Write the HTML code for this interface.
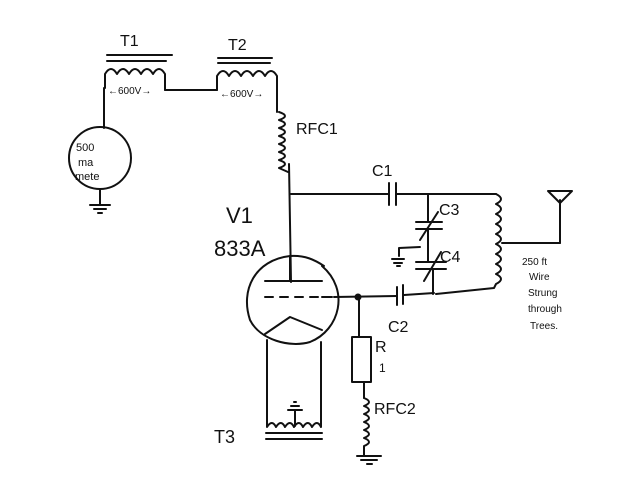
<!DOCTYPE html>
<html><head><style>
html,body{margin:0;padding:0;background:#fff;}
svg{display:block}
text{font-family:"Liberation Sans",sans-serif;fill:#111}
</style></head><body>
<svg width="640" height="480" viewBox="0 0 640 480" xmlns="http://www.w3.org/2000/svg">
<g fill="none" stroke="#111" stroke-width="2" stroke-linecap="round" stroke-linejoin="round">
<!-- T1 -->
<line x1="107" y1="55" x2="172" y2="55"/><line x1="107" y1="61" x2="166" y2="61"/>
<path d="M105 88 V74 q6-10 12 0 q6-10 12 0 q6-10 12 0 q6-10 12 0 q6-10 12 0 V90"/>
<line x1="165" y1="90" x2="217" y2="90"/>
<!-- T2 -->
<line x1="218" y1="58" x2="272" y2="58"/><line x1="218" y1="63" x2="270" y2="63"/>
<path d="M217 90 V76 q6-10 12 0 q6-10 12 0 q6-10 12 0 q6-10 12 0 q6-10 12 0 V112"/>
<!-- meter -->
<line x1="104" y1="88" x2="104" y2="128"/>
<circle cx="100" cy="158" r="31"/>
<line x1="100" y1="189" x2="100" y2="205"/>
<line x1="90" y1="205" x2="110" y2="205"/><line x1="94" y1="209" x2="106" y2="209"/><line x1="98" y1="213" x2="102" y2="213"/>
<!-- RFC1 -->
<path d="M279 112 q12 4 0 8 q12 4 0 8 q12 4 0 8 q12 4 0 8 q12 4 0 8 q12 4 0 8 q12 4 0 8 l9 4"/>
<line x1="289" y1="164" x2="291" y2="282"/>
<!-- top bus / C1 -->
<line x1="291" y1="194" x2="388" y2="194"/>
<line x1="389" y1="183" x2="389" y2="205"/><line x1="396" y1="183" x2="396" y2="205"/>
<line x1="396" y1="194" x2="496" y2="194"/>
<!-- coil right -->
<path d="M496 194 q10 5 0 10 q10 5 0 10 q10 5 0 10 q10 5 0 10 q10 5 0 10 q10 5 0 10 q10 5 0 10 q10 5 0 10 q10 5 0 10 l-2 4 L436 294"/>
<line x1="502" y1="243" x2="560" y2="243"/>
<line x1="560" y1="243" x2="560" y2="200"/>
<path d="M548 191 L572 191 L560 203 Z"/>
<!-- C3 C4 column -->
<line x1="428" y1="194" x2="428" y2="222"/>
<line x1="416" y1="222" x2="442" y2="222"/><line x1="416" y1="229" x2="442" y2="229"/>
<line x1="420" y1="240" x2="438" y2="212"/>
<line x1="428" y1="229" x2="428" y2="262"/>
<line x1="416" y1="262" x2="446" y2="262"/><line x1="416" y1="269" x2="446" y2="269"/>
<line x1="424" y1="281" x2="441" y2="252"/>
<line x1="433" y1="269" x2="433" y2="294"/>
<path d="M420 247 L399 248 V256"/>
<line x1="392" y1="259" x2="404" y2="259"/><line x1="394" y1="263" x2="402" y2="263"/><line x1="397" y1="266" x2="400" y2="266"/>
<!-- C2 -->
<line x1="434" y1="293" x2="404" y2="295"/>
<line x1="403" y1="285" x2="403" y2="304"/><line x1="397" y1="287" x2="397" y2="305"/>
<line x1="397" y1="296" x2="334" y2="297"/>
<!-- tube -->
<path d="M322 266 C350 290 340 330 310 342 C290 348 260 340 250 320 C240 290 255 260 290 256 C305 255 315 260 324 266"/>
<line x1="265" y1="281" x2="322" y2="281"/>
<line x1="290" y1="256" x2="290" y2="281"/>
<path d="M265 297 h8 M280 297 h8 M295 297 h8 M310 297 h8 M322 297 h10" />
<path d="M265 334 L290 317 L322 330"/>
<path d="M267 340 V427 q5-8 9 0 q5-8 9 0 q5-8 9 0 q5-8 9 0 q5-8 9 0 q5-8 9 0 V342"/>
<line x1="266" y1="433" x2="322" y2="433"/><line x1="266" y1="439" x2="322" y2="439"/>
<line x1="295" y1="410" x2="295" y2="426"/>
<line x1="288" y1="410" x2="302" y2="410"/><line x1="291" y1="406" x2="299" y2="406"/><line x1="294" y1="402" x2="296" y2="402"/>
<!-- R1 and RFC2 -->
<line x1="359" y1="297" x2="359" y2="337"/>
<rect x="352" y="337" width="19" height="45"/>
<line x1="364" y1="382" x2="364" y2="398"/>
<path d="M364 398 q10 4 0 8 q10 4 0 8 q10 4 0 8 q10 4 0 8 q10 4 0 8 q10 4 0 8 V456"/>
<line x1="357" y1="456" x2="381" y2="456"/><line x1="361" y1="460" x2="377" y2="460"/><line x1="367" y1="464" x2="372" y2="464"/>
</g>
<circle cx="358" cy="297" r="3.5" fill="#111"/>
<g font-size="16">
<text x="120" y="46">T1</text>
<text x="228" y="50">T2</text>
<text x="296" y="134">RFC1</text>
<text x="372" y="176">C1</text>
<text x="439" y="215">C3</text>
<text x="440" y="262">C4</text>
<text x="388" y="332">C2</text>
<text x="375" y="352">R</text>
<text x="379" y="372" font-size="12">1</text>
<text x="374" y="414">RFC2</text>
<text x="214" y="443" font-size="18">T3</text>
</g>
<text x="226" y="223" font-size="22">V1</text>
<text x="214" y="256" font-size="22">833A</text>
<g font-size="10">
<text x="108" y="94">←600V→</text>
<text x="220" y="97">←600V→</text>
<text x="76" y="151" font-size="11">500</text>
<text x="78" y="166" font-size="11">ma</text>
<text x="75" y="180" font-size="11">mete</text>
<text x="522" y="265">250 ft</text>
<text x="529" y="280">Wire</text>
<text x="528" y="296">Strung</text>
<text x="528" y="312">through</text>
<text x="530" y="329">Trees.</text>
</g>
</svg>
</body></html>
